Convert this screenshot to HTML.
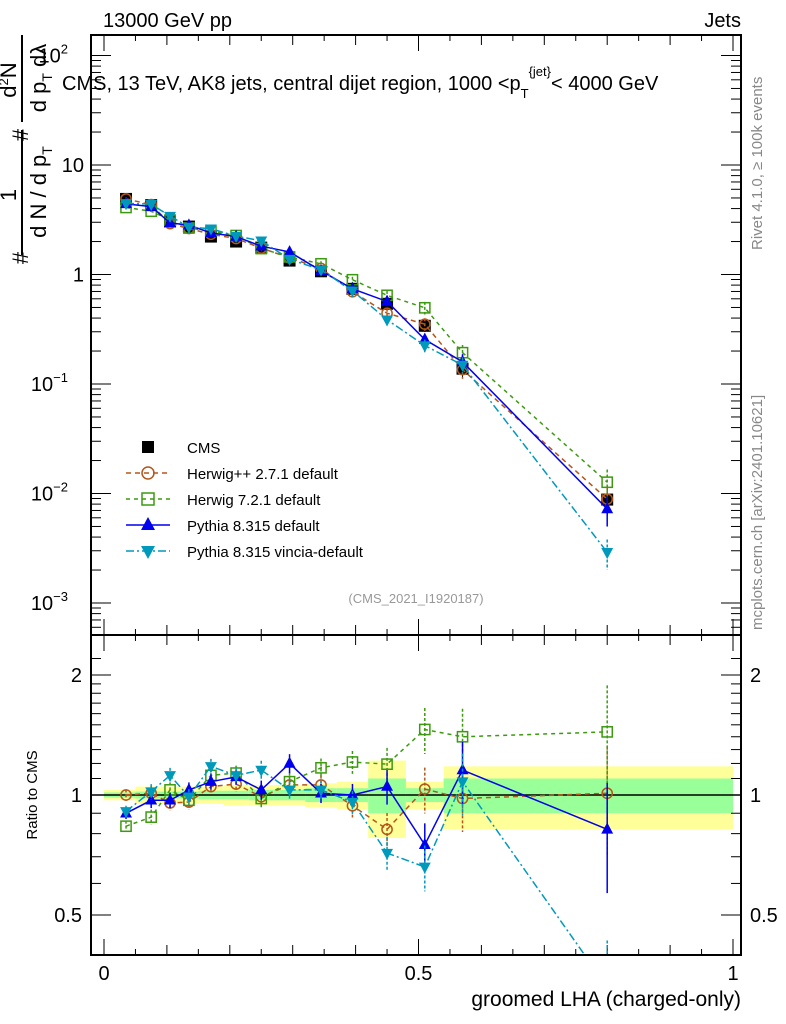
<!DOCTYPE html>
<html><head><meta charset="utf-8"><style>
body{margin:0;background:#fff}
svg{display:block;font-family:"Liberation Sans",Arial,sans-serif}
</style></head><body>
<svg id="c" width="786" height="1024" viewBox="0 0 786 1024" xmlns="http://www.w3.org/2000/svg">
<g id="bands"></g>
<g id="frame"></g>
<g id="series"></g>
<g id="labels">
<text x="103" y="27" font-size="20">13000 GeV pp</text>
<text x="741" y="27" font-size="20" text-anchor="end">Jets</text>
<text x="62" y="90" font-size="20">CMS, 13 TeV, AK8 jets, central dijet region, 1000 &lt;p<tspan font-size="13" dy="8">T</tspan><tspan font-size="13" dy="-22">{jet}</tspan><tspan dy="14">&lt; 4000 GeV</tspan></text>
<text x="416" y="603" font-size="13" fill="#999" text-anchor="middle">(CMS_2021_I1920187)</text>
<text transform="translate(762,250) rotate(-90)" font-size="15" fill="#888">Rivet 4.1.0, ≥ 100k events</text>
<text transform="translate(762,630) rotate(-90)" font-size="15" fill="#888">mcplots.cern.ch [arXiv:2401.10621]</text>
<g transform="rotate(-90)" font-size="22">
 <text x="-258" y="28" text-anchor="middle">#</text>
 <text x="-195" y="16" text-anchor="middle">1</text>
 <line x1="-255" x2="-130" y1="22" y2="22" stroke="#000" stroke-width="2"/>
 <text x="-192" y="46" text-anchor="middle">d N / d p<tspan font-size="14" dy="6">T</tspan></text>
 <text x="-135" y="28" text-anchor="middle">#</text>
 <text x="-80" y="16" text-anchor="middle">d<tspan font-size="13" dy="-8">2</tspan><tspan dy="8">N</tspan></text>
 <line x1="-122" x2="-35" y1="22" y2="22" stroke="#000" stroke-width="2"/>
 <text x="-78" y="46" text-anchor="middle">d p<tspan font-size="14" dy="6">T</tspan><tspan dy="-6">  dλ</tspan></text>
</g>
<text transform="translate(37,795) rotate(-90)" font-size="15" text-anchor="middle">Ratio to CMS</text>
<text x="741" y="1006" font-size="21" text-anchor="end">groomed LHA (charged-only)</text>
</g>
<g id="legend"></g>
</svg>
<script>
const xs=[0.035,0.075,0.105,0.135,0.17,0.21,0.25,0.295,0.345,0.395,0.45,0.51,0.57,0.80];
const edges=[0,0.05,0.09,0.12,0.15,0.19,0.23,0.27,0.32,0.37,0.42,0.48,0.54,0.60,1.0];
const cms=[4.9,4.3,3.05,2.74,2.22,2.0,1.76,1.34,1.07,0.74,0.54,0.34,0.138,0.0088];
const rHerwigpp=[1.0,1.01,0.955,0.96,1.05,1.065,0.99,1.06,1.06,0.94,0.82,1.035,0.98,1.01];
const rHerwig7=[0.835,0.88,1.03,0.97,1.12,1.135,0.98,1.08,1.17,1.21,1.195,1.46,1.40,1.44];
const rPythia=[0.90,0.97,0.97,1.03,1.08,1.11,1.03,1.2,1.01,1.0,1.05,0.75,1.155,0.82];
const rVincia=[0.91,1.02,1.12,0.99,1.18,1.12,1.155,1.03,1.03,0.96,0.715,0.66,1.08,0.33];
const relErr=[0.03,0.04,0.04,0.04,0.04,0.04,0.05,0.05,0.05,0.06,0.09,0.12,0.16,0.28];
const bandTot=[0.03,0.05,0.05,0.05,0.05,0.06,0.06,0.06,0.07,0.08,0.22,0.08,0.18,0.18];
const bandStat=[0.015,0.02,0.02,0.02,0.025,0.025,0.03,0.03,0.04,0.04,0.1,0.04,0.1,0.1];
const NS="http://www.w3.org/2000/svg";
const X=v=>104+629*v;
const Y=v=>274.5-109.5*Math.log10(v);
const R=v=>795-398.6*Math.log10(v);
const T=35,Rr=741,MB=635,RB=955;
function mk(p,tag,a){const e=document.createElementNS(NS,tag);for(const k in a)e.setAttribute(k,a[k]);p.appendChild(e);return e;}
const bands=document.getElementById('bands'),frame=document.getElementById('frame'),series=document.getElementById('series'),legend=document.getElementById('legend');
for(let i=0;i<xs.length;i++){
 const x0=X(edges[i]),x1=X(edges[i+1]);
 const a=mk(bands,'rect',{x:x0,y:R(1+bandTot[i]),width:x1-x0,height:R(1-bandTot[i])-R(1+bandTot[i]),fill:'#ffff99'});
 
 
 const b=mk(bands,'rect',{x:x0,y:R(1+bandStat[i]),width:x1-x0,height:R(1-bandStat[i])-R(1+bandStat[i]),fill:'#99ff99'});
 
 
}
mk(frame,'rect',{x:91,y:T,width:Rr-91,height:MB-T,fill:'none',stroke:'#000','stroke-width':2});
mk(frame,'rect',{x:91,y:MB,width:Rr-91,height:RB-MB,fill:'none',stroke:'#000','stroke-width':2});
mk(frame,'line',{x1:91,x2:Rr,y1:R(1),y2:R(1),stroke:'#000','stroke-width':1.5});
for(let k=0;k<=20;k++){const v=k*0.05,x=X(v),len=(k%10==0)?16:(k%2==0?10:6);
 for(const [yb,yt] of [[MB,T],[RB,MB]]){mk(frame,'line',{x1:x,x2:x,y1:yb,y2:yb-len,stroke:'#000'});mk(frame,'line',{x1:x,x2:x,y1:yt,y2:yt+len,stroke:'#000'});}}
[['0',0],['0.5',0.5],['1',1]].forEach(([t,v])=>{const e=mk(frame,'text',{x:X(v),y:980,'font-size':20,'text-anchor':'middle'});e.textContent=t;});
for(let d=-4;d<=2;d++)for(let m=1;m<=9;m++){const v=m*Math.pow(10,d),y=Y(v);if(y<T||y>MB)continue;const len=m==1?20:10;
 mk(frame,'line',{x1:91,x2:91+len,y1:y,y2:y,stroke:'#000'});mk(frame,'line',{x1:Rr,x2:Rr-len,y1:y,y2:y,stroke:'#000'});}
[['10',2,'2'],['10',1,''],['1',0,''],['10',-1,'−1'],['10',-2,'−2'],['10',-3,'−3']].forEach(([b,d,s])=>{
 const e=mk(frame,'text',{x:s?80:84,y:Y(Math.pow(10,d))+7,'font-size':20,'text-anchor':'end'});e.textContent=b;
 if(s){const t=mk(e,'tspan',{'font-size':13,dy:-9});t.textContent=s;e.setAttribute('x',68);e.setAttribute('text-anchor','end');}
 });
[0.5,0.6,0.7,0.8,0.9,1,1.1,1.2,1.3,1.4,1.5,1.6,1.7,1.8,1.9,2,2.2].forEach(v=>{const y=R(v);if(y<MB||y>RB)return;const len=(v==0.5||v==1||v==2)?20:10;
 mk(frame,'line',{x1:91,x2:91+len,y1:y,y2:y,stroke:'#000'});mk(frame,'line',{x1:Rr,x2:Rr-len,y1:y,y2:y,stroke:'#000'});});
[['2',2],['1',1],['0.5',0.5]].forEach(([t,v])=>{for(const [x,a] of [[82,'end'],[750,'start']]){const e=mk(frame,'text',{x:x,y:R(v)+7,'font-size':20,'text-anchor':a});e.textContent=t;}});
const defs=mk(document.getElementById('c'),'defs',{});
const cp1=mk(defs,'clipPath',{id:'cm'});mk(cp1,'rect',{x:91,y:T,width:Rr-91,height:MB-T});
const cp2=mk(defs,'clipPath',{id:'cr'});mk(cp2,'rect',{x:91,y:MB,width:Rr-91,height:RB-MB});
const gm=mk(series,'g',{'clip-path':'url(#cm)'}),gr=mk(series,'g',{'clip-path':'url(#cr)'});
function marker(g,type,x,y,col,s){s=s||1;
 if(type=='sq')return mk(g,'rect',{x:x-6*s,y:y-6*s,width:12*s,height:12*s,fill:'#000'});
 if(type=='circ')return mk(g,'circle',{cx:x,cy:y,r:6*s,fill:'none',stroke:col,'stroke-width':1.5});
 if(type=='osq')return mk(g,'rect',{x:x-6*s,y:y-6*s,width:12*s,height:12*s,fill:'none',stroke:col,'stroke-width':1.5});
 if(type=='tri')return mk(g,'polygon',{points:`${x},${y-8*s} ${x-7*s},${y+5*s} ${x+7*s},${y+5*s}`,fill:col});
 if(type=='itri')return mk(g,'polygon',{points:`${x},${y+8*s} ${x-7*s},${y-5*s} ${x+7*s},${y-5*s}`,fill:col});
}
const mcs=[
 {name:'herwigpp',label:'Herwig++ 2.7.1 default',r:rHerwigpp,col:'#b5561a',m:'circ',dash:'5,4'},
 {name:'herwig7',label:'Herwig 7.2.1 default',r:rHerwig7,col:'#3c9a10',m:'osq',dash:'4,4'},
 {name:'pythia',label:'Pythia 8.315 default',r:rPythia,col:'#0000ee',m:'tri',dash:''},
 {name:'vincia',label:'Pythia 8.315 vincia-default',r:rVincia,col:'#0099bb',m:'itri',dash:'8,3,2,3'}];
xs.forEach((x,i)=>{const px=X(x);
 mk(gm,'line',{x1:px,x2:px,y1:Y(cms[i]*(1+relErr[i])),y2:Y(cms[i]*(1-relErr[i])),stroke:'#000'});
 const d=marker(gm,'sq',px,Y(cms[i]),'#000');
 
 });
mcs.forEach(s=>{
 const pm=xs.map((x,i)=>X(x)+','+Y(cms[i]*s.r[i])).join(' ');
 const l1=mk(gm,'polyline',{points:pm,fill:'none',stroke:s.col,'stroke-width':1.5,'stroke-dasharray':s.dash});
 
 
 const pr=xs.map((x,i)=>X(x)+','+R(s.r[i])).join(' ');
 const l2=mk(gr,'polyline',{points:pr,fill:'none',stroke:s.col,'stroke-width':1.5,'stroke-dasharray':s.dash});
 
 
 xs.forEach((x,i)=>{const e=relErr[i]*1.1,v=cms[i]*s.r[i],r=s.r[i],px=X(x);
  mk(gm,'line',{x1:px,x2:px,y1:Y(v*(1+e)),y2:Y(v*(1-e)),stroke:s.col,'stroke-width':1.5,'stroke-dasharray':s.dash?'3,2':''});
  mk(gr,'line',{x1:px,x2:px,y1:R(r*(1+e)),y2:R(r*(1-e)),stroke:s.col,'stroke-width':1.5,'stroke-dasharray':s.dash?'3,2':''});
  const a=marker(gm,s.m,px,Y(v),s.col,0.85);
  const b=marker(gr,s.m,px,R(r),s.col,0.85);});
});
const entries=[{label:'CMS',m:'sq',col:'#000',dash:null}].concat(mcs);
entries.forEach((s,k)=>{const y=447+26*k;
 if(s.dash!==null)mk(legend,'line',{x1:126,x2:170,y1:y,y2:y,stroke:s.col,'stroke-width':1.5,'stroke-dasharray':s.dash});
 marker(legend,s.m,148,y,s.col);
 const t=mk(legend,'text',{x:187,y:y+6,'font-size':15});t.textContent=s.label;
 
 });
</script>
</body></html>
